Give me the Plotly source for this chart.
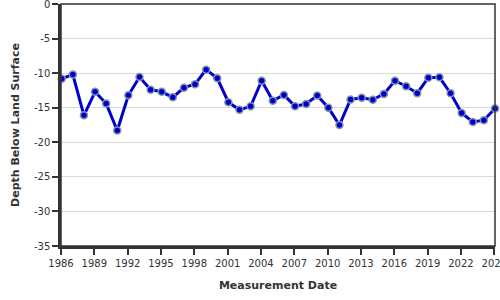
import plotly.graph_objects as go

years = list(range(1986, 2026))
depths = [-10.8, -10.2, -16.1, -12.7, -14.4, -18.3, -13.2, -10.55, -12.4, -12.7,
          -13.5, -12.1, -11.6, -9.5, -10.75, -14.2, -15.3, -14.8, -11.1, -14.0,
          -13.15, -14.8, -14.45, -13.25, -15.0, -17.5, -13.8, -13.55, -13.85, -13.0,
          -11.1, -11.9, -12.9, -10.65, -10.6, -12.9, -15.75, -17.05, -16.8, -15.1]
dates = [f"{y}-01-25" for y in years]

y_ticks = [0, -5, -10, -15, -20, -25, -30, -35]

fig = go.Figure()
fig.add_trace(go.Scatter(
    x=dates, y=depths, mode="lines+markers",
    line=dict(color="#0000cc", width=3),
    marker=dict(color="#0000cc", size=7, line=dict(color="#8496a6", width=1.5)),
    cliponaxis=False, showlegend=False,
))

font = "DejaVu Sans, Verdana, sans-serif"
fig.update_layout(
    width=500, height=300,
    margin=dict(l=61, r=5, t=4, b=54, autoexpand=False),
    paper_bgcolor="white", plot_bgcolor="white",
    font=dict(family=font, size=10, color="#333"),
    xaxis=dict(
        type="date", range=["1986-01-01", "2025-01-25"],
        tick0="1986-01-01", dtick="M36", tickformat="%Y",
        showgrid=False, showline=True, linecolor="#333", linewidth=2.5,
        ticks="outside", ticklen=6, tickcolor="#333", tickwidth=1.5,
        ticklabeloverflow="allow",
        title=dict(text="<b>Measurement Date</b>", font=dict(size=11, color="#333"), standoff=14),
        zeroline=False,
    ),
    yaxis=dict(
        range=[-35, 0], tickvals=y_ticks, ticktext=[str(v) for v in y_ticks],
        showgrid=True, gridcolor="#d9d9d9", gridwidth=1,
        showline=True, linecolor="#333", linewidth=2.5,
        ticks="outside", ticklen=6, tickcolor="#333", tickwidth=1.5,
        ticklabeloverflow="allow",
        title=dict(text="<b>Depth Below Land Surface</b>", font=dict(size=11, color="#333"), standoff=13),
        zeroline=False,
    ),
    shapes=[dict(type="rect", xref="paper", yref="paper", x0=0, x1=1, y0=0, y1=1,
                 line=dict(color="#333", width=1.5), layer="above")],
)

fig.write_html("out.html")
